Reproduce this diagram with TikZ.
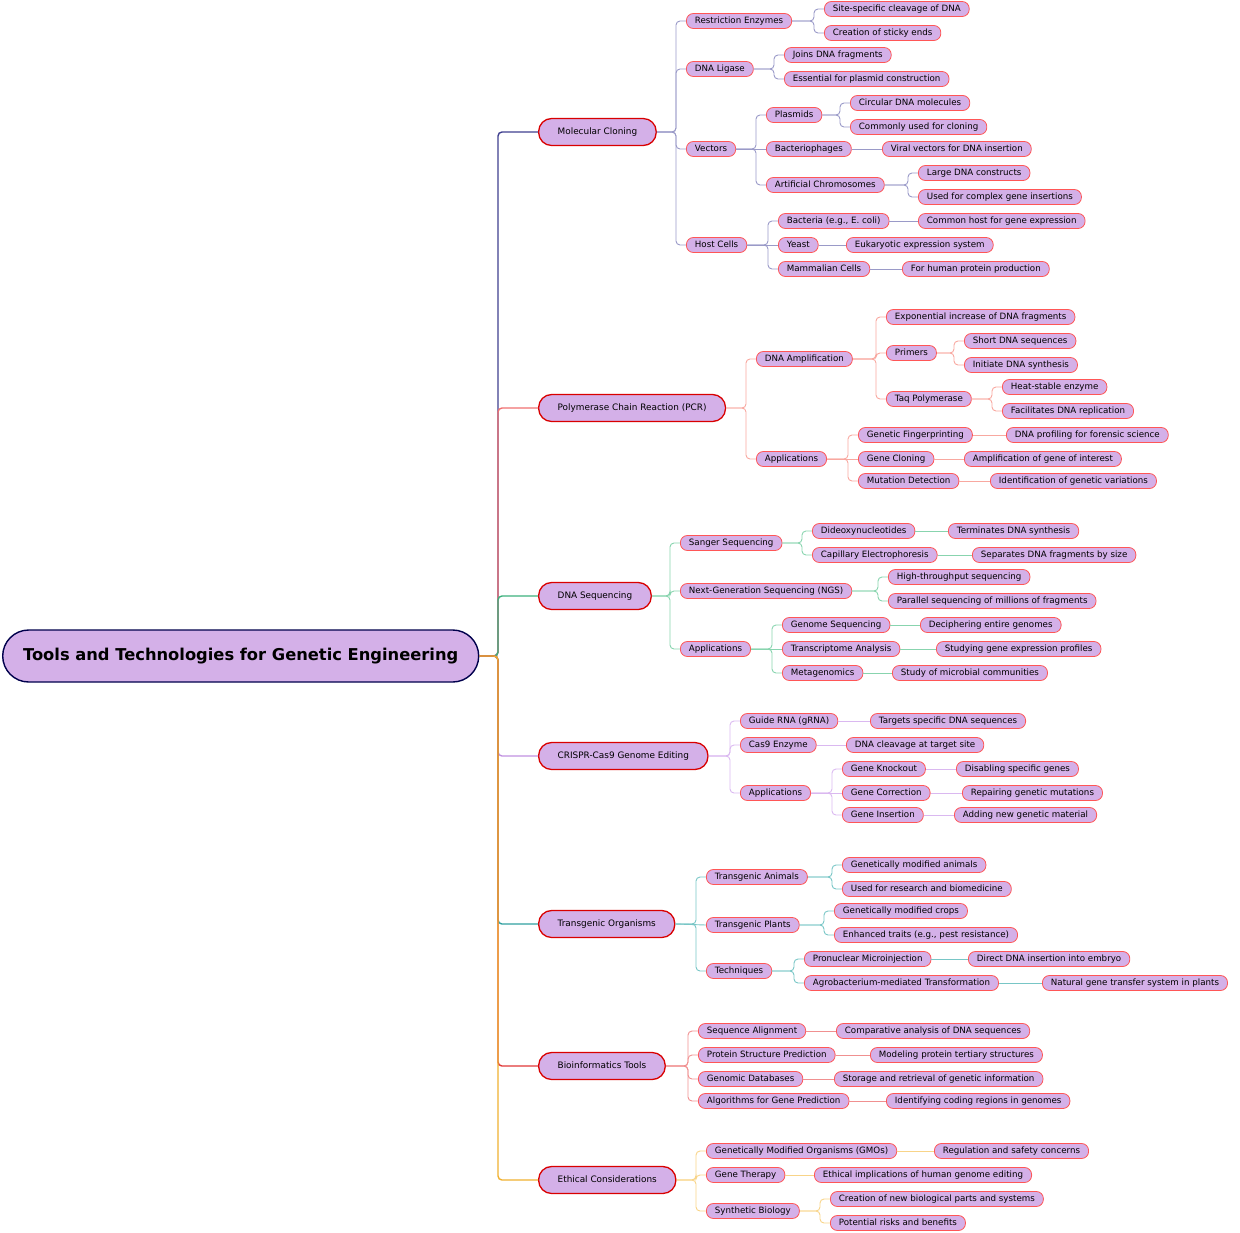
\documentclass[tikz,border=0pt]{standalone}
\usepackage{fontspec}
\setmainfont{DejaVu Sans}
\begin{document}
\begin{tikzpicture}[x=1pt,y=-1pt,
 n/.style={draw=red!55!pink, line width=0.8pt, fill=nf, rounded corners=7pt, anchor=west, minimum height=15pt, inner xsep=8.5pt, inner ysep=1pt, text height=6.2pt, text depth=1.8pt, font=\fontsize{8.7}{9}\selectfont},
 l1/.style={draw=red!85!black, line width=1.3pt, fill=nf, rounded corners=13pt, anchor=west, minimum height=27pt, inner xsep=19pt, text height=6.5pt, text depth=2pt, font=\fontsize{8.9}{10}\selectfont},
 lk/.style={rounded corners=4pt, line width=0.9pt}]
\definecolor{nf}{HTML}{D4B0E8}
\definecolor{cA}{HTML}{3F3F8F}\definecolor{sA}{HTML}{9A9AC8}
\definecolor{cB}{HTML}{F07070}\definecolor{sB}{HTML}{F8A8A0}
\definecolor{cC}{HTML}{3CB07C}\definecolor{sC}{HTML}{88D4AE}
\definecolor{cD}{HTML}{C090E0}\definecolor{sD}{HTML}{DAB8F0}
\definecolor{cE}{HTML}{2FA0A0}\definecolor{sE}{HTML}{78C6C6}
\definecolor{cF}{HTML}{E03838}\definecolor{sF}{HTML}{F09090}
\definecolor{cG}{HTML}{F0B030}\definecolor{sG}{HTML}{F8D488}
\newcommand\lnk[3]{\draw[lk,#1] (#2.east) -| ([xshift=-10pt]#3.west) -- (#3.west);}
\newcommand\slnk[3]{\draw[line width=0.9pt,#1] (#2.east) -- (#3.west);}
\newcommand\rlnk[2]{\draw[lk,line width=1.4pt,#1] (root.east) -| ([xshift=-40pt]#2.west) -- (#2.west);}
\useasboundingbox (0,0) rectangle (1240,1232);
\node[draw=black!70!blue, line width=1.4pt, fill=nf, rounded corners=26pt, anchor=west, minimum width=476pt, minimum height=52pt, font=\fontsize{16.3}{19}\selectfont\bfseries] (root) at (2,656) {Tools and Technologies for Genetic Engineering};
% level 1
\node[l1] (mc) at (538,132) {Molecular Cloning};
\node[l1] (pcr) at (538,408) {Polymerase Chain Reaction (PCR)};
\node[l1] (seq) at (538,596) {DNA Sequencing};
\node[l1] (cr) at (538,756) {CRISPR-Cas9 Genome Editing};
\node[l1] (tr) at (538,924) {Transgenic Organisms};
\node[l1] (bi) at (538,1066) {Bioinformatics Tools};
\node[l1] (et) at (538,1180) {Ethical Considerations};
\rlnk{cA}{mc}\rlnk{cB}{pcr}\rlnk{cC}{seq}\rlnk{cD}{cr}\rlnk{cE}{tr}\rlnk{cF}{bi}\rlnk{cG}{et}
% Molecular cloning
\node[n] (re) at (686,21) {Restriction Enzymes};
\node[n] (lg) at (686,69) {DNA Ligase};
\node[n] (ve) at (686,149) {Vectors};
\node[n] (hc) at (686,245) {Host Cells};
\node[n] (re1) at (824,9) {Site-specific cleavage of DNA};
\node[n] (re2) at (824,33) {Creation of sticky ends};
\node[n] (lg1) at (784,55) {Joins DNA fragments};
\node[n] (lg2) at (784,79) {Essential for plasmid construction};
\node[n] (pl) at (766,115) {Plasmids};
\node[n] (bp) at (766,149) {Bacteriophages};
\node[n] (ac) at (766,185) {Artificial Chromosomes};
\node[n] (pl1) at (850,103) {Circular DNA molecules};
\node[n] (pl2) at (850,127) {Commonly used for cloning};
\node[n] (bp1) at (882,149) {Viral vectors for DNA insertion};
\node[n] (ac1) at (918,173) {Large DNA constructs};
\node[n] (ac2) at (918,197) {Used for complex gene insertions};
\node[n] (ba) at (778,221) {Bacteria (e.g., E. coli)};
\node[n] (ye) at (778,245) {Yeast};
\node[n] (ma) at (778,269) {Mammalian Cells};
\node[n] (ba1) at (918,221) {Common host for gene expression};
\node[n] (ye1) at (846,245) {Eukaryotic expression system};
\node[n] (ma1) at (902,269) {For human protein production};
\foreach \c in {re,lg,ve,hc}{\lnk{sA}{mc}{\c}}
\lnk{sA}{re}{re1}\lnk{sA}{re}{re2}\lnk{sA}{lg}{lg1}\lnk{sA}{lg}{lg2}
\lnk{sA}{ve}{pl}\slnk{sA}{ve}{bp}\lnk{sA}{ve}{ac}
\lnk{sA}{pl}{pl1}\lnk{sA}{pl}{pl2}\slnk{sA}{bp}{bp1}\lnk{sA}{ac}{ac1}\lnk{sA}{ac}{ac2}
\lnk{sA}{hc}{ba}\slnk{sA}{hc}{ye}\lnk{sA}{hc}{ma}
\slnk{sA}{ba}{ba1}\slnk{sA}{ye}{ye1}\slnk{sA}{ma}{ma1}
% PCR
\node[n] (da) at (756,359) {DNA Amplification};
\node[n] (pa) at (756,459) {Applications};
\node[n] (da1) at (886,317) {Exponential increase of DNA fragments};
\node[n] (pr) at (886,353) {Primers};
\node[n] (tq) at (886,399) {Taq Polymerase};
\node[n] (pr1) at (964,341) {Short DNA sequences};
\node[n] (pr2) at (964,365) {Initiate DNA synthesis};
\node[n] (tq1) at (1002,387) {Heat-stable enzyme};
\node[n] (tq2) at (1002,411) {Facilitates DNA replication};
\node[n] (gf) at (858,435) {Genetic Fingerprinting};
\node[n] (gc) at (858,459) {Gene Cloning};
\node[n] (md) at (858,481) {Mutation Detection};
\node[n] (gf1) at (1006,435) {DNA profiling for forensic science};
\node[n] (gc1) at (964,459) {Amplification of gene of interest};
\node[n] (md1) at (990,481) {Identification of genetic variations};
\lnk{sB}{pcr}{da}\lnk{sB}{pcr}{pa}
\lnk{sB}{da}{da1}\lnk{sB}{da}{pr}\lnk{sB}{da}{tq}
\lnk{sB}{pr}{pr1}\lnk{sB}{pr}{pr2}\lnk{sB}{tq}{tq1}\lnk{sB}{tq}{tq2}
\lnk{sB}{pa}{gf}\slnk{sB}{pa}{gc}\lnk{sB}{pa}{md}
\slnk{sB}{gf}{gf1}\slnk{sB}{gc}{gc1}\slnk{sB}{md}{md1}
% Sequencing
\node[n] (sa) at (680,543) {Sanger Sequencing};
\node[n] (ng) at (680,591) {Next-Generation Sequencing (NGS)};
\node[n] (sp) at (680,649) {Applications};
\node[n] (dd) at (812,531) {Dideoxynucleotides};
\node[n] (ce) at (812,555) {Capillary Electrophoresis};
\node[n] (dd1) at (948,531) {Terminates DNA synthesis};
\node[n] (ce1) at (972,555) {Separates DNA fragments by size};
\node[n] (ng1) at (888,577) {High-throughput sequencing};
\node[n] (ng2) at (888,601) {Parallel sequencing of millions of fragments};
\node[n] (gs) at (782,625) {Genome Sequencing};
\node[n] (ta) at (782,649) {Transcriptome Analysis};
\node[n] (mg) at (782,673) {Metagenomics};
\node[n] (gs1) at (920,625) {Deciphering entire genomes};
\node[n] (ta1) at (936,649) {Studying gene expression profiles};
\node[n] (mg1) at (892,673) {Study of microbial communities};
\lnk{sC}{seq}{sa}\lnk{sC}{seq}{ng}\lnk{sC}{seq}{sp}
\lnk{sC}{sa}{dd}\lnk{sC}{sa}{ce}\slnk{sC}{dd}{dd1}\slnk{sC}{ce}{ce1}
\lnk{sC}{ng}{ng1}\lnk{sC}{ng}{ng2}
\lnk{sC}{sp}{gs}\slnk{sC}{sp}{ta}\lnk{sC}{sp}{mg}
\slnk{sC}{gs}{gs1}\slnk{sC}{ta}{ta1}\slnk{sC}{mg}{mg1}
% CRISPR
\node[n] (gr) at (740,721) {Guide RNA (gRNA)};
\node[n] (c9) at (740,745) {Cas9 Enzyme};
\node[n] (cp) at (740,793) {Applications};
\node[n] (gr1) at (870,721) {Targets specific DNA sequences};
\node[n] (c91) at (846,745) {DNA cleavage at target site};
\node[n] (gk) at (842,769) {Gene Knockout};
\node[n] (gco) at (842,793) {Gene Correction};
\node[n] (gi) at (842,815) {Gene Insertion};
\node[n] (gk1) at (956,769) {Disabling specific genes};
\node[n] (gco1) at (962,793) {Repairing genetic mutations};
\node[n] (gi1) at (954,815) {Adding new genetic material};
\lnk{sD}{cr}{gr}\lnk{sD}{cr}{c9}\lnk{sD}{cr}{cp}
\slnk{sD}{gr}{gr1}\slnk{sD}{c9}{c91}
\lnk{sD}{cp}{gk}\slnk{sD}{cp}{gco}\lnk{sD}{cp}{gi}
\slnk{sD}{gk}{gk1}\slnk{sD}{gco}{gco1}\slnk{sD}{gi}{gi1}
% Transgenic
\node[n] (tan) at (706,877) {Transgenic Animals};
\node[n] (tpl) at (706,925) {Transgenic Plants};
\node[n] (tec) at (706,971) {Techniques};
\node[n] (tan1) at (842,865) {Genetically modified animals};
\node[n] (tan2) at (842,889) {Used for research and biomedicine};
\node[n] (tpl1) at (834,911) {Genetically modified crops};
\node[n] (tpl2) at (834,935) {Enhanced traits (e.g., pest resistance)};
\node[n] (pm) at (804,959) {Pronuclear Microinjection};
\node[n] (ag) at (804,983) {Agrobacterium-mediated Transformation};
\node[n] (pm1) at (968,959) {Direct DNA insertion into embryo};
\node[n] (ag1) at (1042,983) {Natural gene transfer system in plants};
\lnk{sE}{tr}{tan}\slnk{sE}{tr}{tpl}\lnk{sE}{tr}{tec}
\lnk{sE}{tan}{tan1}\lnk{sE}{tan}{tan2}\lnk{sE}{tpl}{tpl1}\lnk{sE}{tpl}{tpl2}
\lnk{sE}{tec}{pm}\lnk{sE}{tec}{ag}\slnk{sE}{pm}{pm1}\slnk{sE}{ag}{ag1}
% Bioinformatics
\node[n] (sal) at (698,1031) {Sequence Alignment};
\node[n] (psp) at (698,1055) {Protein Structure Prediction};
\node[n] (gdb) at (698,1079) {Genomic Databases};
\node[n] (agp) at (698,1101) {Algorithms for Gene Prediction};
\node[n] (sal1) at (836,1031) {Comparative analysis of DNA sequences};
\node[n] (psp1) at (870,1055) {Modeling protein tertiary structures};
\node[n] (gdb1) at (834,1079) {Storage and retrieval of genetic information};
\node[n] (agp1) at (886,1101) {Identifying coding regions in genomes};
\lnk{sF}{bi}{sal}\lnk{sF}{bi}{psp}\lnk{sF}{bi}{gdb}\lnk{sF}{bi}{agp}
\slnk{sF}{sal}{sal1}\slnk{sF}{psp}{psp1}\slnk{sF}{gdb}{gdb1}\slnk{sF}{agp}{agp1}
% Ethics
\node[n] (gmo) at (706,1151) {Genetically Modified Organisms (GMOs)};
\node[n] (gth) at (706,1175) {Gene Therapy};
\node[n] (sb) at (706,1211) {Synthetic Biology};
\node[n] (gmo1) at (934,1151) {Regulation and safety concerns};
\node[n] (gth1) at (814,1175) {Ethical implications of human genome editing};
\node[n] (sb1) at (830,1199) {Creation of new biological parts and systems};
\node[n] (sb2) at (830,1223) {Potential risks and benefits};
\lnk{sG}{et}{gmo}\lnk{sG}{et}{gth}\lnk{sG}{et}{sb}
\slnk{sG}{gmo}{gmo1}\slnk{sG}{gth}{gth1}\lnk{sG}{sb}{sb1}\lnk{sG}{sb}{sb2}
\end{tikzpicture}
\end{document}
